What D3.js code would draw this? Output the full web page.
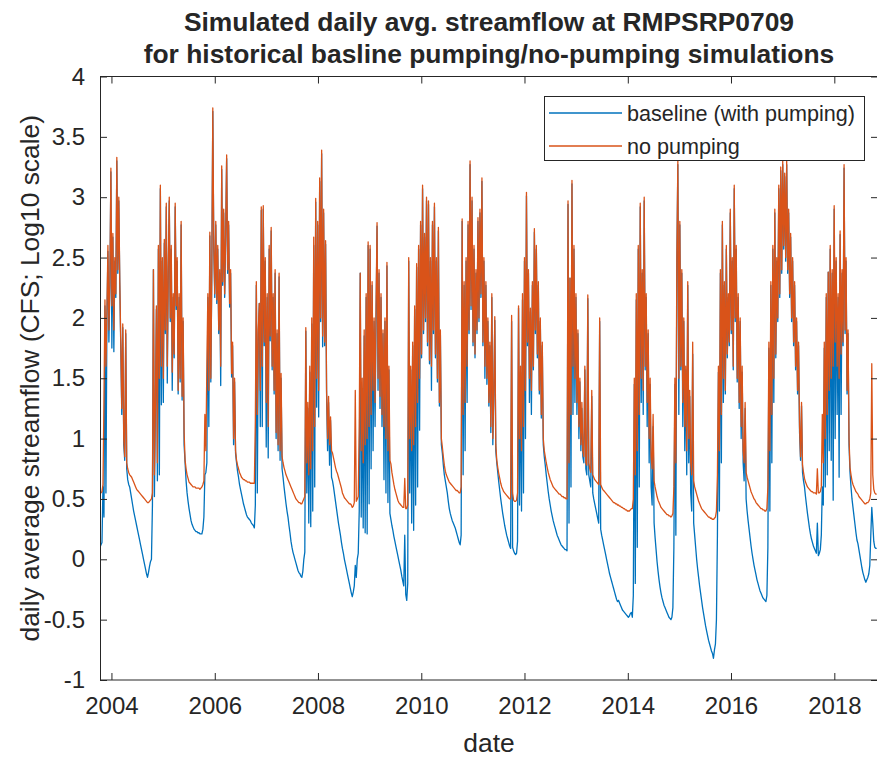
<!DOCTYPE html>
<html>
<head>
<meta charset="utf-8">
<script src="https://cdn.jsdelivr.net/npm/d3@7"></script>
<style>
body { margin: 0; background: #fff; }
svg text { font-family: "Liberation Sans", Arial, Helvetica, sans-serif; fill: #262626; }
</style>
</head>
<body>
<div id="chart"></div>
<script>
// Weekly samples (log10 CFS), first sample on 2003-10-12
var firstWeek = new Date(2003, 9, 12);
var stepDays = 7;

var noPumping = [
  0.55,0.55,0.56,0.62,1.30,2.15,1.60,2.05,2.60,1.90,
  2.30,3.24,2.10,2.70,1.90,2.50,2.20,3.33,2.40,3.00,
  2.30,1.80,1.25,1.95,1.00,0.85,1.90,0.80,0.75,0.72,
  0.70,0.69,0.68,0.66,0.64,0.62,0.60,0.58,0.57,0.56,
  0.55,0.54,0.53,0.52,0.51,0.50,0.49,0.48,0.47,0.47,
  // WY2005
  0.48,0.49,0.50,0.55,2.40,0.70,1.30,2.10,0.80,2.60,
  1.50,3.10,1.60,2.50,1.50,2.65,1.90,2.95,1.60,2.40,
  3.00,2.00,2.60,1.55,2.20,1.70,2.95,2.10,2.50,1.40,
  2.20,1.50,2.80,1.35,2.00,1.05,0.82,0.75,0.70,0.67,
  0.64,0.63,0.62,0.61,0.60,0.60,0.60,0.59,0.59,0.59,
  // WY2006
  0.59,0.58,0.59,0.60,0.62,0.65,1.20,0.90,1.60,2.20,
  1.40,2.71,1.50,2.40,3.74,2.60,2.20,2.80,2.15,2.60,
  1.90,2.40,1.60,3.26,2.30,2.90,2.20,2.70,3.35,2.40,
  2.80,2.12,2.40,1.54,1.80,1.00,1.50,0.90,0.82,0.78,
  0.75,0.72,0.70,0.68,0.67,0.66,0.66,0.65,0.65,0.64,
  // WY2007
  0.64,0.64,0.63,0.63,0.63,0.63,0.63,1.15,2.30,1.20,
  1.90,2.12,1.40,2.92,1.60,2.93,1.80,2.50,1.30,2.20,
  1.10,2.60,1.85,2.75,1.60,2.20,1.40,2.40,1.05,1.90,
  0.95,2.37,0.90,1.54,0.85,0.80,0.76,0.73,0.70,0.68,
  0.66,0.64,0.62,0.60,0.58,0.56,0.54,0.52,0.50,0.49,
  // WY2008
  0.48,0.47,0.47,0.46,0.46,0.48,0.50,0.52,1.92,0.80,
  1.30,0.70,1.60,0.75,2.00,0.90,2.67,1.10,2.99,1.50,
  2.80,1.40,3.16,2.00,3.39,1.85,2.90,1.80,2.64,1.40,
  1.00,1.35,0.95,1.18,0.90,0.88,0.84,0.80,0.76,0.73,
  0.71,0.68,0.65,0.62,0.59,0.55,0.53,0.51,0.50,0.49,
  0.48,0.47,0.46,0.46,0.45,0.43,0.44,0.47,1.40,0.48,
  // WY2009
  0.50,0.52,1.10,2.37,0.90,1.50,0.80,1.90,0.95,2.20,
  1.00,2.63,1.10,2.60,1.20,2.30,1.40,2.00,1.30,2.10,
  2.79,1.50,2.40,1.35,2.20,1.20,1.90,1.10,2.00,1.00,
  2.46,0.90,1.60,0.82,0.79,0.72,0.67,0.62,0.58,0.55,
  0.52,0.49,0.47,0.46,0.45,0.44,0.43,0.43,0.67,0.42,
  // WY2010
  0.42,0.45,2.50,1.00,1.60,0.90,1.80,0.95,2.10,1.10,
  2.45,1.30,2.60,1.50,2.80,1.70,3.10,1.90,2.70,2.00,
  3.00,1.80,2.97,1.65,2.50,1.60,2.80,1.90,2.95,1.70,
  2.50,1.50,2.75,1.30,1.90,1.00,0.93,0.85,0.78,0.73,
  0.70,0.68,0.66,0.64,0.63,0.62,0.61,0.60,0.59,0.58,
  // WY2011
  0.57,0.57,0.56,0.55,0.55,0.60,2.82,1.20,2.30,1.30,
  2.50,1.60,2.80,1.90,3.30,2.10,3.00,1.80,2.60,1.70,
  2.40,1.90,2.83,2.00,2.90,2.20,3.16,1.80,2.50,1.60,
  2.30,1.50,2.00,1.30,1.80,1.10,2.20,1.00,1.40,2.01,
  0.95,0.82,0.76,0.71,0.67,0.63,0.60,0.58,0.56,0.55,
  // WY2012
  0.54,0.53,0.52,0.51,0.50,0.50,2.02,0.55,0.49,0.48,
  0.48,0.49,0.55,2.10,1.00,1.60,0.90,2.20,1.10,2.50,
  1.40,3.04,1.80,2.40,1.50,2.08,1.40,2.30,1.60,2.74,
  1.90,2.60,1.70,2.30,1.40,2.00,1.20,1.80,1.00,0.90,
  0.85,0.80,0.76,0.72,0.69,0.66,0.64,0.62,0.60,0.59,
  0.58,0.57,0.56,0.55,0.54,0.54,0.53,0.52,0.52,0.51,
  // WY2013
  0.51,0.50,0.50,2.97,0.80,2.33,1.20,3.14,1.60,2.60,
  1.50,2.20,1.30,1.90,1.10,1.50,0.95,1.30,0.90,0.85,
  1.60,0.80,0.78,2.19,0.80,0.75,0.72,1.40,0.70,0.68,
  0.66,0.65,0.64,0.63,0.62,2.00,0.62,0.60,0.58,0.57,
  0.56,0.55,0.54,0.53,0.52,0.51,0.50,0.49,0.48,0.47,
  // WY2014
  0.47,0.46,0.46,0.45,0.45,0.44,0.44,0.43,0.43,0.42,
  0.42,0.41,0.41,0.40,0.40,0.40,0.41,0.42,0.42,0.50,
  1.50,0.70,2.20,0.90,2.60,1.20,2.95,1.50,2.40,1.40,
  3.00,1.60,2.20,1.30,1.90,1.00,1.50,0.85,0.75,1.20,
  0.65,0.60,0.56,0.52,0.49,0.47,0.45,0.43,0.42,0.41,
  0.40,0.39,0.38,0.37,0.37,0.36,0.36,0.35,0.36,0.38,
  // WY2015
  0.60,1.50,0.80,2.50,3.30,1.50,2.80,1.60,2.40,1.30,
  2.00,1.10,1.60,0.90,2.30,1.00,1.40,0.80,0.70,1.80,
  0.65,0.60,0.57,0.54,0.51,0.48,0.46,0.44,0.42,0.41,
  0.40,0.39,0.38,0.37,0.36,0.35,0.35,0.34,0.34,0.33,
  // WY2016
  0.33,0.34,0.35,0.40,0.70,1.60,0.90,2.40,1.20,2.80,
  1.50,2.30,1.40,2.60,1.70,2.20,1.80,2.90,1.90,2.50,
  1.60,3.10,2.00,2.60,1.50,2.20,1.30,2.00,1.10,1.60,
  0.90,0.80,1.30,0.72,0.68,0.65,0.62,0.59,0.56,0.54,
  0.52,0.50,0.49,0.47,0.46,0.45,0.44,0.43,0.42,0.42,
  // WY2017
  0.41,0.41,0.40,0.40,0.42,0.60,1.80,0.90,2.30,1.20,
  2.60,1.50,2.90,1.70,2.50,2.00,3.10,2.20,3.25,2.40,
  3.30,2.60,3.20,2.50,3.30,2.40,2.90,2.20,2.70,2.00,
  2.50,1.80,2.30,1.60,2.00,1.40,1.80,1.10,0.85,1.30,
  0.78,0.72,0.67,0.64,0.62,0.60,0.59,0.58,0.57,0.56,
  // WY2018
  0.56,0.55,0.55,0.55,0.54,0.75,0.55,0.55,0.56,0.60,
  1.20,0.80,1.80,1.00,2.20,1.20,2.38,1.40,2.60,1.50,
  2.40,1.60,2.93,1.80,2.50,1.60,2.20,1.50,2.72,1.70,
  2.40,1.80,3.27,1.90,2.50,1.40,1.90,1.00,0.76,0.70,
  0.65,0.62,0.60,0.58,0.56,0.55,0.54,0.52,0.51,0.50,
  0.49,0.48,0.47,0.46,0.46,0.47,0.47,0.48,0.50,0.55,
  1.62,0.70,0.58,0.55,0.54,0.54
];

var baseline = [
  0.10,0.12,0.14,0.60,0.35,2.10,0.55,2.00,2.55,1.80,
  2.27,3.21,1.75,2.67,1.72,2.47,2.17,3.30,2.37,2.97,
  2.27,1.76,1.20,1.92,0.95,0.82,1.87,0.75,0.66,0.62,
  0.60,0.55,0.50,0.45,0.40,0.36,0.32,0.28,0.24,0.20,
  0.16,0.12,0.08,0.04,0.00,-0.04,-0.08,-0.12,-0.15,-0.11,
  // WY2005
  -0.06,-0.02,0.00,0.45,2.40,0.52,1.25,2.07,0.65,2.57,
  0.70,3.07,1.28,2.47,1.30,2.62,1.87,2.92,1.46,2.37,
  2.97,1.97,2.57,1.40,2.17,1.67,2.92,2.07,2.47,1.37,
  2.17,1.47,2.77,1.32,1.97,0.95,0.80,0.65,0.55,0.48,
  0.42,0.37,0.32,0.29,0.27,0.25,0.24,0.23,0.23,0.22,
  // WY2006
  0.22,0.21,0.21,0.21,0.25,0.35,0.70,0.72,0.80,2.17,
  1.10,2.68,1.47,2.37,3.71,2.57,2.17,2.77,2.12,2.57,
  1.87,2.37,1.44,3.23,2.27,2.87,2.17,2.67,3.32,2.37,
  2.77,2.09,2.37,1.51,1.77,0.95,1.47,0.88,0.80,0.73,
  0.68,0.62,0.58,0.54,0.50,0.46,0.43,0.40,0.37,0.35,
  // WY2007
  0.34,0.33,0.32,0.30,0.29,0.28,0.26,0.45,2.27,0.55,
  1.87,2.12,1.10,2.89,1.10,2.90,1.77,2.47,0.93,2.17,
  0.84,2.57,1.81,2.72,1.57,2.17,1.37,2.37,1.00,1.87,
  0.90,2.34,0.82,1.50,0.75,0.68,0.60,0.53,0.46,0.40,
  0.35,0.28,0.22,0.15,0.10,0.06,0.03,0.00,-0.03,-0.06,
  // WY2008
  -0.09,-0.11,-0.12,-0.14,-0.15,-0.10,0.00,0.06,1.89,0.55,
  1.25,0.30,1.55,0.27,1.95,0.40,2.60,0.60,2.96,1.26,
  2.77,1.18,3.13,1.97,3.36,1.76,2.87,1.77,2.61,1.37,
  0.90,1.30,0.78,1.15,0.68,0.65,0.60,0.54,0.48,0.42,
  0.36,0.30,0.25,0.20,0.14,0.09,0.05,0.00,-0.04,-0.08,
  -0.12,-0.16,-0.20,-0.24,-0.28,-0.31,-0.27,-0.22,-0.05,-0.15,
  // WY2009
  0.00,0.05,0.40,2.37,0.35,1.40,0.26,1.85,0.22,2.17,
  0.21,2.60,0.46,2.57,0.75,2.27,0.90,1.97,1.10,1.98,
  2.76,1.40,2.37,1.25,2.17,1.10,1.87,0.66,1.97,0.55,
  2.43,0.47,1.57,0.38,0.33,0.28,0.24,0.19,0.15,0.11,
  0.07,0.03,-0.01,-0.05,-0.09,-0.14,-0.18,-0.22,0.20,-0.29,
  // WY2010
  -0.34,-0.20,2.47,0.55,1.57,0.30,1.77,0.24,2.07,0.45,
  2.42,0.60,2.57,1.07,2.77,1.67,3.07,1.87,2.67,1.97,
  2.97,1.77,2.94,1.62,2.47,1.40,2.77,1.87,2.92,1.67,
  2.47,1.47,2.72,1.27,1.87,0.95,0.88,0.78,0.70,0.65,
  0.60,0.55,0.48,0.42,0.38,0.35,0.32,0.30,0.28,0.26,
  // WY2011
  0.23,0.20,0.17,0.14,0.12,0.20,2.80,0.70,2.27,0.90,
  2.47,1.30,2.77,1.87,3.27,2.07,2.97,1.77,2.57,1.67,
  2.37,1.87,2.80,1.97,2.87,2.17,3.13,1.77,2.47,1.50,
  2.27,1.45,1.97,1.27,1.77,1.05,2.17,0.95,1.37,1.98,
  0.90,0.80,0.72,0.64,0.57,0.50,0.44,0.38,0.33,0.28,
  // WY2012
  0.24,0.20,0.17,0.14,0.11,0.09,1.97,0.10,0.07,0.05,
  0.04,0.05,0.15,2.08,0.45,1.55,0.40,2.15,0.55,2.47,
  1.00,3.01,1.77,2.37,1.30,2.05,1.20,2.27,1.57,2.71,
  1.87,2.57,1.67,2.27,1.37,1.97,1.17,1.77,0.95,0.85,
  0.78,0.70,0.63,0.56,0.50,0.45,0.40,0.36,0.32,0.29,
  0.26,0.23,0.20,0.18,0.16,0.14,0.12,0.11,0.10,0.09,
  // WY2013
  0.08,0.08,0.07,2.94,0.30,2.33,0.60,3.11,1.20,2.57,
  1.30,2.17,1.20,1.87,1.00,1.47,0.90,1.25,0.85,0.80,
  1.57,0.75,0.70,2.16,0.70,0.65,0.60,1.35,0.55,0.50,
  0.46,0.42,0.38,0.34,0.30,1.97,0.25,0.20,0.16,0.12,
  0.08,0.04,0.00,-0.04,-0.08,-0.12,-0.15,-0.18,-0.21,-0.24,
  // WY2014
  -0.27,-0.30,-0.33,-0.35,-0.34,-0.36,-0.38,-0.40,-0.42,-0.43,
  -0.44,-0.45,-0.46,-0.47,-0.48,-0.47,-0.45,-0.44,-0.48,-0.30,
  1.45,-0.20,2.15,0.10,2.57,0.60,2.92,1.30,2.37,1.20,
  2.97,1.57,2.17,1.10,1.87,0.80,1.45,0.60,0.45,1.10,
  0.30,0.18,0.08,-0.02,-0.10,-0.17,-0.23,-0.28,-0.32,-0.35,
  -0.38,-0.40,-0.42,-0.44,-0.46,-0.48,-0.49,-0.50,-0.48,-0.40,
  // WY2015
  0.10,1.45,0.20,2.47,3.27,1.20,2.77,1.57,2.37,1.10,
  1.97,0.90,1.57,0.70,2.27,0.80,1.35,0.55,0.40,1.70,
  0.30,0.20,0.10,0.00,-0.08,-0.15,-0.22,-0.28,-0.34,-0.40,
  -0.45,-0.50,-0.55,-0.59,-0.63,-0.67,-0.70,-0.73,-0.76,-0.78,
  // WY2016
  -0.82,-0.75,-0.70,-0.50,0.20,1.55,0.40,2.37,0.80,2.77,
  1.30,2.27,1.37,2.57,1.67,2.17,1.77,2.87,1.87,2.47,
  1.57,3.07,1.97,2.57,1.47,2.17,1.25,1.97,1.00,1.55,
  0.80,0.65,1.25,0.50,0.40,0.32,0.25,0.18,0.11,0.05,
  0.00,-0.05,-0.09,-0.13,-0.17,-0.20,-0.23,-0.26,-0.28,-0.30,
  // WY2017
  -0.32,-0.33,-0.34,-0.35,-0.30,0.10,1.75,0.40,2.27,0.80,
  2.57,1.30,2.87,1.67,2.47,1.97,3.07,2.17,3.22,2.37,
  3.27,2.57,3.17,2.47,3.27,2.37,2.87,2.17,2.67,1.97,
  2.47,1.77,2.27,1.57,1.97,1.37,1.77,1.05,0.82,1.27,
  0.72,0.65,0.60,0.52,0.45,0.38,0.32,0.26,0.21,0.17,
  // WY2018
  0.14,0.11,0.09,0.07,0.05,0.30,0.03,0.05,0.08,0.20,
  0.60,0.45,1.75,0.60,2.17,0.70,2.38,0.90,2.57,0.82,
  2.37,0.49,2.90,1.00,2.47,1.20,2.17,0.68,2.69,1.20,
  2.37,1.77,3.24,1.87,2.47,1.37,1.87,0.95,0.72,0.60,
  0.50,0.43,0.36,0.29,0.22,0.16,0.13,0.08,0.03,-0.02,
  -0.07,-0.11,-0.14,-0.17,-0.19,-0.17,-0.15,-0.12,-0.05,0.20,
  0.43,0.30,0.15,0.10,0.09,0.09
];

var yTicks = [-1, -0.5, 0, 0.5, 1, 1.5, 2, 2.5, 3, 3.5, 4];
var xTickYears = [2004, 2006, 2008, 2010, 2012, 2014, 2016, 2018];
var seriesNames = ['baseline (with pumping)', 'no pumping'];
var seriesColors = ['#0072BD', '#D95319'];

var svgWidth = 877;
var svgHeight = 757;

var margin = {
    top: 76.5,
    left: 100
};
var chartWidth = 778;
var chartHeight = 603.5;

var svg = d3.select('#chart')
    .append('svg')
    .attr('width', svgWidth)
    .attr('height', svgHeight)
    .style('display', 'block')
    .style('background', '#fff');

var chartGroup = svg.append('g')
    .attr('transform', `translate(${margin.left},${margin.top})`);

// scales
var xScale = d3.scaleTime()
    .domain([new Date(2003, 9, 12), new Date(2018, 10, 6)])
    .range([0, chartWidth]);

var yScale = d3.scaleLinear()
    .domain([-1, 4])
    .range([chartHeight, 0]);

// clip the lines to the axes box
chartGroup.append('clipPath')
    .attr('id', 'plotClip')
    .append('rect')
    .attr('width', chartWidth)
    .attr('height', chartHeight);

function weekDate(i) {
    return d3.timeDay.offset(firstWeek, i * stepDays);
}

var line = d3.line()
    .x((d, i) => xScale(weekDate(i)))
    .y(d => yScale(d));

var linesGroup = chartGroup.append('g')
    .attr('clip-path', 'url(#plotClip)');

// baseline first, no pumping drawn on top
[baseline, noPumping].forEach(function(values, k) {
    linesGroup.append('path')
        .datum(values)
        .attr('fill', 'none')
        .attr('stroke', seriesColors[k])
        .attr('stroke-width', 1.3)
        .attr('stroke-linejoin', 'round')
        .attr('d', line);
});

// axes, MATLAB style ticks pointing inward on all four sides
var xTickDates = xTickYears.map(y => new Date(y, 0, 1));

var bottomAxis = d3.axisBottom(xScale)
    .tickValues(xTickDates)
    .tickFormat(d3.timeFormat('%Y'))
    .tickSizeInner(-7)
    .tickSizeOuter(0)
    .tickPadding(17);

var leftAxis = d3.axisLeft(yScale)
    .tickValues(yTicks)
    .tickFormat(d => String(d))
    .tickSizeInner(-7)
    .tickSizeOuter(0)
    .tickPadding(15);

var topAxis = d3.axisTop(xScale)
    .tickValues(xTickDates)
    .tickFormat('')
    .tickSizeInner(-7)
    .tickSizeOuter(0);

var rightAxis = d3.axisRight(yScale)
    .tickValues(yTicks)
    .tickFormat('')
    .tickSizeInner(-7)
    .tickSizeOuter(0);

var xAxis = chartGroup.append('g')
    .attr('transform', `translate(0,${chartHeight})`)
    .call(bottomAxis);
var yAxis = chartGroup.append('g')
    .call(leftAxis);
var tAxis = chartGroup.append('g')
    .call(topAxis);
var rAxis = chartGroup.append('g')
    .attr('transform', `translate(${chartWidth},0)`)
    .call(rightAxis);

[xAxis, yAxis, tAxis, rAxis].forEach(function(ax) {
    ax.attr('font-family', null).attr('font-size', null);
    ax.select('.domain').remove();
    ax.selectAll('.tick line').attr('stroke', '#262626');
    ax.selectAll('.tick text')
        .style('font-size', '24px')
        .attr('fill', '#262626');
});

// box round the plot
chartGroup.append('rect')
    .attr('x', 0.5)
    .attr('y', 0)
    .attr('width', chartWidth)
    .attr('height', chartHeight)
    .attr('fill', 'none')
    .attr('stroke', '#262626')
    .attr('stroke-width', 1);

// title
var title = svg.append('text')
    .attr('text-anchor', 'middle')
    .style('font-size', '26.4px')
    .style('font-weight', 'bold')
    .attr('fill', '#000');
title.append('tspan')
    .attr('x', margin.left + chartWidth / 2)
    .attr('y', 31)
    .text('Simulated daily avg. streamflow at RMPSRP0709');
title.append('tspan')
    .attr('x', margin.left + chartWidth / 2)
    .attr('y', 63)
    .text('for historical basline pumping/no-pumping simulations');

// axis labels
svg.append('text')
    .attr('transform', 'rotate(-90)')
    .attr('x', -(margin.top + chartHeight / 2))
    .attr('y', 39)
    .attr('text-anchor', 'middle')
    .style('font-size', '26.4px')
    .text('daily average streamflow (CFS; Log10 scale)');

svg.append('text')
    .attr('x', margin.left + chartWidth / 2)
    .attr('y', 752)
    .attr('text-anchor', 'middle')
    .style('font-size', '26.4px')
    .text('date');

// legend
var legend = svg.append('g')
    .attr('transform', 'translate(544,96)');

legend.append('rect')
    .attr('x', 0.5)
    .attr('y', 0.5)
    .attr('width', 320)
    .attr('height', 64)
    .attr('fill', '#fff')
    .attr('stroke', '#262626')
    .attr('stroke-width', 1);

seriesNames.forEach(function(name, k) {
    var rowY = 17 + k * 33;
    legend.append('line')
        .attr('x1', 5)
        .attr('x2', 78)
        .attr('y1', rowY)
        .attr('y2', rowY)
        .attr('stroke', seriesColors[k])
        .attr('stroke-width', 1.5);
    legend.append('text')
        .attr('x', 83)
        .attr('y', rowY)
        .attr('dy', '0.35em')
        .style('font-size', '21.6px')
        .text(name);
});
</script>
</body>
</html>
